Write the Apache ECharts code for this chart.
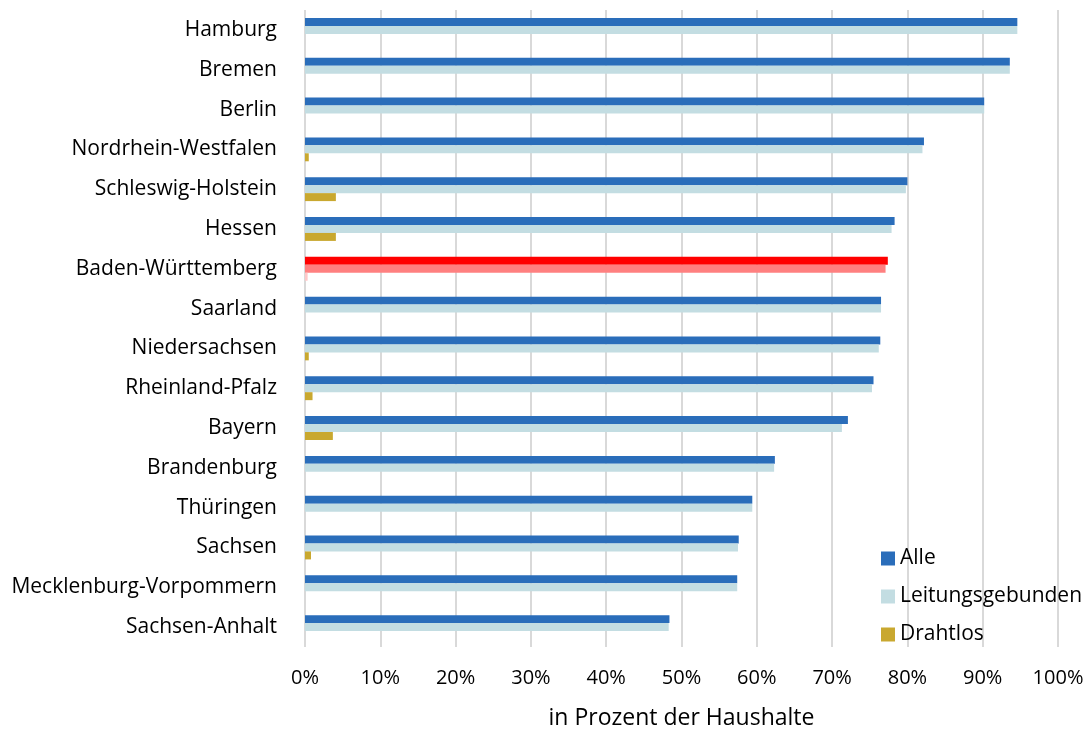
<!DOCTYPE html>
<html><head><meta charset="utf-8">
<script src="https://cdn.jsdelivr.net/npm/echarts@6/dist/echarts.min.js"></script>
<style>html,body{margin:0;padding:0;background:#fff}#c{width:1089px;height:729px}</style>
</head><body><div id="c"></div>
<script>
const categories = ["Hamburg","Bremen","Berlin","Nordrhein-Westfalen","Schleswig-Holstein","Hessen","Baden-Württemberg","Saarland","Niedersachsen","Rheinland-Pfalz","Bayern","Brandenburg","Thüringen","Sachsen","Mecklenburg-Vorpommern","Sachsen-Anhalt"];
const alle =        [94.6,93.6,90.2,82.2,80.0,78.3,77.4,76.5,76.4,75.5,72.1,62.4,59.4,57.6,57.4,48.4];
const leitung =     [94.6,93.6,90.2,82.0,79.8,77.9,77.1,76.5,76.2,75.3,71.3,62.3,59.4,57.5,57.4,48.3];
const drahtlos =    [0,0,0,0.5,4.1,4.1,0.35,0,0.5,1.0,3.7,0,0,0.8,0,0];
const xTicks = [0,10,20,30,40,50,60,70,80,90,100];
const seriesNames = ["Alle","Leitungsgebunden","Drahtlos"];
const highlight = "Baden-Württemberg";

const FONT = "Open Sans";
const colors = ["#2A6DBA","#C3DDE2","#C9A82F"];
const hiColors = ["#FF0000","#FF8080","#FFC8C8"];

function mk(vals, i){
  return vals.map((v,k)=> categories[k]===highlight ? {value:v, itemStyle:{color:hiColors[i]}} : v);
}
const chart = echarts.init(document.getElementById('c'), null, {renderer:'canvas'});
chart.setOption({
  animation:false,
  textStyle:{fontFamily:FONT},
  grid:{left:305, right:31, top:10, bottom:82, containLabel:false, outerBoundsMode:'none'},
  legend:{
    orient:'vertical', left:876, top:543, itemWidth:14, itemHeight:14, itemGap:17,
    icon:'rect', data:seriesNames,
    textStyle:{fontFamily:FONT, fontSize:21, color:'#000'}
  },
  xAxis:{
    type:'value', min:0, max:100, interval:10,
    axisLine:{show:false}, axisTick:{show:false},
    splitLine:{show:true, lineStyle:{color:'#d9d9d9', width:2}},
    axisLabel:{formatter:v=>v+'%', fontFamily:FONT, fontSize:20, color:'#000', margin:21},
    name:'in Prozent der Haushalte', nameLocation:'middle', nameGap:60,
    nameTextStyle:{fontFamily:FONT, fontSize:23, color:'#000'}
  },
  yAxis:{
    type:'category', data:categories, inverse:true,
    axisLine:{show:false}, axisTick:{show:false},
    axisLabel:{fontFamily:FONT, fontSize:21, color:'#000', margin:28}
  },
  series:[alle,leitung,drahtlos].map((vals,i)=>({
    name:seriesNames[i], type:'bar', data:mk(vals,i),
    itemStyle:{color:colors[i]}, barGap:'0%', barCategoryGap:'40%'
  }))
});
</script></body></html>
